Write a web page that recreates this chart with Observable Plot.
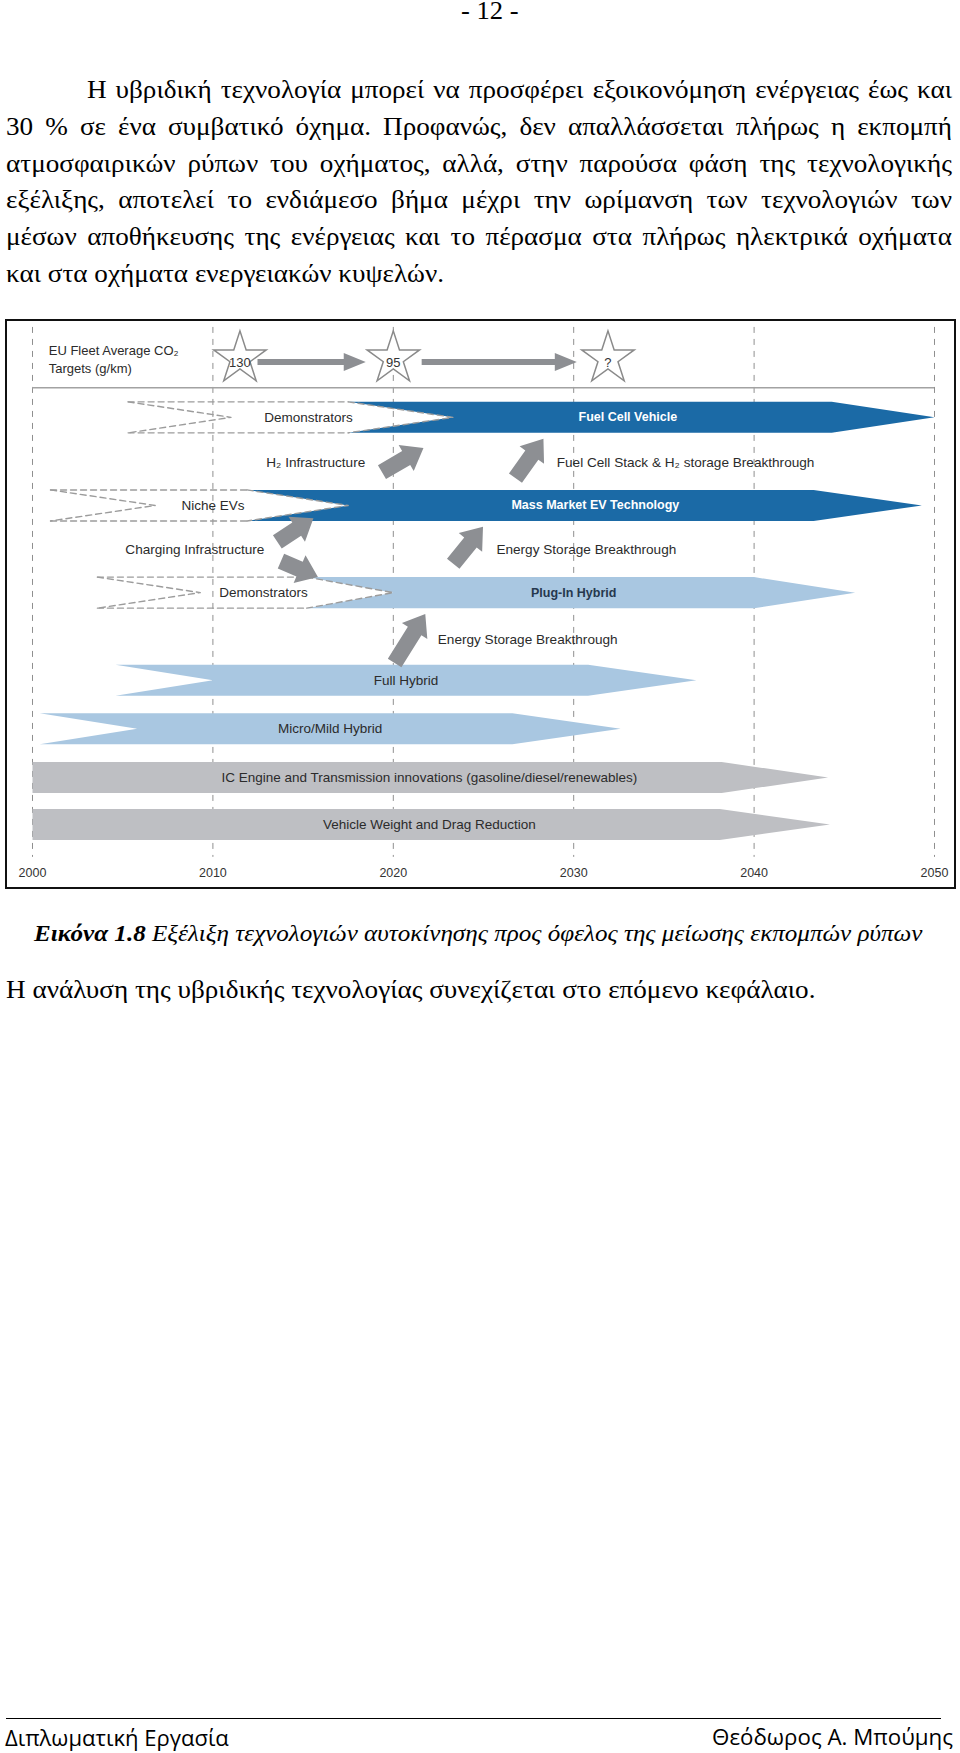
<!DOCTYPE html>
<html lang="el">
<head>
<meta charset="utf-8">
<script src="https://cdn.jsdelivr.net/npm/d3@7"></script>
<script src="https://cdn.jsdelivr.net/npm/@observablehq/plot@0.6"></script>
<style>
html,body{margin:0;padding:0;background:#fff}
body{position:relative;width:960px;height:1753px;overflow:hidden;color:#000}
.ln{position:absolute;white-space:nowrap;line-height:1;display:inline-block;transform-origin:0 0}
#chart{position:absolute;left:5px;top:319px;width:951px;height:570px;border:2px solid #111;box-sizing:border-box;background:#fff}
#chart svg{display:block}
#rule{position:absolute;left:6px;top:1718px;width:935px;height:0;border-top:1.3px solid #000}
</style>
</head>
<body>
<div id="chart"></div>
<div id="rule"></div>
<script>
// ---------------- DATA ----------------
// Timeline bands (years on x; lane = vertical row of the diagram)
const bandLabels = ["Fuel Cell Vehicle", "Mass Market EV Technology", "Plug-In Hybrid", "Full Hybrid", "Micro/Mild Hybrid", "IC Engine and Transmission innovations (gasoline/diesel/renewables)", "Vehicle Weight and Drag Reduction"];
const bandGroup = ["Electric", "Electric", "Hybrid", "Hybrid", "Hybrid", "Conventional", "Conventional"];
const bandLane = [2.10, 4.03, 5.94, 7.86, 8.92, 9.99, 11.02];
const bandStart = [2017.5, 2011.9, 2015.2, 2004.6, 2000.4, 2000.0, 2000.0];
const bandNotch = [2023.3, 2017.5, 2020.0, 2010.0, 2005.8, 2000.0, 2000.0];
const bandBodyEnd = [2044.3, 2043.3, 2040.0, 2030.8, 2026.6, 2038.2, 2038.1];
const bandTip = [2050.0, 2049.3, 2045.6, 2036.8, 2032.6, 2044.1, 2044.2];
const bandLabelYear = [2033.0, 2031.2, 2030.0, 2020.7, 2016.5, 2022.0, 2022.0];

// Early (dashed) phases preceding a band
const demoLabels = ["Demonstrators", "Niche EVs", "Demonstrators"];
const demoBand = [0, 1, 2];
const demoStart = [2005.3, 2001.0, 2003.6];
const demoNotch = [2011.0, 2006.8, 2009.3];
const demoLabelYear = [2015.3, 2010.0, 2012.8];

// Enablers (text notes) and their arrows
const noteLabels = ["H\u2082 Infrastructure", "Fuel Cell Stack & H\u2082 storage Breakthrough", "Charging Infrastructure", "Energy Storage Breakthrough", "Energy Storage Breakthrough"];
const noteYear = [2015.7, 2036.2, 2009.0, 2030.7, 2027.45];
const noteLane = [3.09, 3.09, 4.99, 4.99, 6.97];
const arrowFromYear = [2019.4, 2026.8, 2013.6, 2013.8, 2023.35, 2020.1];
const arrowFromLane = [3.31, 3.44, 4.84, 5.26, 5.32, 7.49];
const arrowToYear = [2021.7, 2028.35, 2015.6, 2015.85, 2025.0, 2021.8];
const arrowToLane = [2.78, 2.58, 4.32, 5.61, 4.51, 6.42];

// EU fleet average CO2 targets
const targetTitle = ["EU Fleet Average CO\u2082", "Targets (g/km)"];
const targetTitleLane = [0.635, 1.03];
const targetYear = [2011.5, 2020.0, 2031.9];
const targetLabel = ["130", "95", "?"];
const targetArrowFrom = [2012.5, 2021.6];
const targetArrowTo = [2018.5, 2030.2];

// Axis
const tickYears = [2000, 2010, 2020, 2030, 2040, 2050];
const tickLabels = ["2000", "2010", "2020", "2030", "2040", "2050"];

// Page text
const pageNumber = "- 12 -";
const bodyLines = [
  "Η υβριδική τεχνολογία μπορεί να προσφέρει εξοικονόμηση ενέργειας έως και",
  "30 % σε ένα συμβατικό όχημα. Προφανώς, δεν απαλλάσσεται πλήρως η εκπομπή",
  "ατμοσφαιρικών ρύπων του οχήματος, αλλά, στην παρούσα φάση της τεχνολογικής",
  "εξέλιξης, αποτελεί το ενδιάμεσο βήμα μέχρι την ωρίμανση των τεχνολογιών των",
  "μέσων αποθήκευσης της ενέργειας και το πέρασμα στα πλήρως ηλεκτρικά οχήματα",
  "και στα οχήματα ενεργειακών κυψελών."
];
const captionLead = "Εικόνα 1.8";
const captionText = "Εξέλιξη τεχνολογιών αυτοκίνησης προς όφελος της μείωσης εκπομπών ρύπων";
const afterText = "Η ανάλυση της υβριδικής τεχνολογίας συνεχίζεται στο επόμενο κεφάλαιο.";
const footerLeft = "Διπλωματική Εργασία";
const footerRight = "Θεόδωρος Α. Μπούμης";

// ---------------- PAGE TEXT LAYOUT ----------------
const SERIF = '"Liberation Serif","Times New Roman",serif';
const SANS = '"Open Sans","Noto Sans",sans-serif';
function makeSpan(html, family, size, italic) {
  const s = document.createElement("span");
  s.className = "ln";
  s.innerHTML = html;
  s.style.fontFamily = family;
  s.style.fontSize = size + "px";
  if (italic) s.style.fontStyle = "italic";
  document.body.appendChild(s);
  return s;
}
function addLine(html, o) {
  const s = makeSpan(html, o.family, o.size, o.italic);
  const sx = o.sx || 1;
  let w = s.getBoundingClientRect().width;
  let size = o.size;
  if (o.fitSize) {
    size = o.size * (o.width / sx) / w;
    s.style.fontSize = size + "px";
    w = s.getBoundingClientRect().width;
  }
  if (o.justify) {
    const n = (s.textContent.match(/ /g) || []).length;
    if (n) s.style.wordSpacing = ((o.width / sx - w) / n) + "px";
    w = o.width / sx;
  }
  if (sx !== 1) s.style.transform = `scaleX(${sx})`;
  const vis = w * sx;
  const asc = o.family === SANS ? 1.069 : 0.891, desc = o.family === SANS ? 0.293 : 0.216;
  const baseOff = (size - (asc + desc) * size) / 2 + asc * size;
  s.style.top = (o.baseline - baseOff) + "px";
  let left = o.left;
  if (o.center != null) left = o.center - vis / 2;
  if (o.right != null) left = o.right - vis;
  s.style.left = left + "px";
  return s;
}
const BODY = 25.5;
// horizontal scale calibrated on the unjustified last line of the paragraph (≈438px wide)
const probe = makeSpan(bodyLines[bodyLines.length - 1], SERIF, BODY, false);
const SX = 438 / probe.getBoundingClientRect().width;
probe.remove();

addLine(pageNumber, {family: SERIF, size: 25, sx: SX, center: 490, baseline: 19});
bodyLines.forEach((t, i) => {
  const first = i === 0, last = i === bodyLines.length - 1;
  addLine(t, {family: SERIF, size: BODY, sx: SX, left: first ? 87 : 6, width: first ? 865 : 946,
    justify: !last, baseline: 98.3 + i * 36.85});
});
addLine("<b>" + captionLead + "</b> " + captionText, {family: SERIF, size: BODY, sx: SX, italic: true, left: 34, width: 889, fitSize: true, baseline: 941.5});
addLine(afterText, {family: SERIF, size: BODY, sx: SX, left: 6, baseline: 998});
addLine(footerLeft, {family: SANS, size: 20, left: 5, width: 224, fitSize: true, baseline: 1746});
addLine(footerRight, {family: SANS, size: 20, right: 953, width: 241, fitSize: true, baseline: 1746});

// ---------------- CHART ----------------
const H = 0.34; // half thickness of a band, in lanes
const bands = bandLabels.map((label, i) => ({label, group: bandGroup[i], lane: bandLane[i], start: bandStart[i], notch: bandNotch[i], bodyEnd: bandBodyEnd[i], tip: bandTip[i], labelYear: bandLabelYear[i]}));
const bandPoly = bands.flatMap((b, i) => [
  [b.start, b.lane - H], [b.bodyEnd, b.lane - H], [b.tip, b.lane], [b.bodyEnd, b.lane + H], [b.start, b.lane + H], [b.notch, b.lane]
].map(([x, y]) => ({id: i, x, y, group: b.group})));

const demos = demoLabels.map((label, j) => ({label, band: bands[demoBand[j]], start: demoStart[j], notch: demoNotch[j], labelYear: demoLabelYear[j]}));
const demoLines = demos.flatMap((d, j) => {
  const b = d.band, top = b.lane - H, bot = b.lane + H;
  return [
    [[d.start, top], [b.start, top]],
    [[d.start, bot], [b.start, bot]],
    [[d.start, top], [d.notch, b.lane], [d.start, bot]],
    [[b.start, top], [b.notch, b.lane], [b.start, bot]]
  ].flatMap((pts, k) => pts.map(([x, y]) => ({id: j * 10 + k, x, y})));
});

const notes = noteLabels.map((label, i) => ({label, x: noteYear[i], lane: noteLane[i]}));
const arrows = arrowFromYear.map((x1, i) => ({x1, y1: arrowFromLane[i], x2: arrowToYear[i], y2: arrowToLane[i]}));
const TARGET_LANE = 0.81, TARGET_TEXT_LANE = 0.90;
const targets = targetYear.map((x, i) => ({x, label: targetLabel[i]}));
const targetArrows = targetArrowFrom.map((x1, i) => ({x1, x2: targetArrowTo[i], y: TARGET_TEXT_LANE}));

function blockArrow(shaftW, headW, headL, fill) {
  return function (index, scales, values) {
    const g = d3.create("svg:g");
    for (const i of index) {
      const x1 = values.x1[i], y1 = values.y1[i], x2 = values.x2[i], y2 = values.y2[i];
      const L = Math.hypot(x2 - x1, y2 - y1);
      const ux = (x2 - x1) / L, uy = (y2 - y1) / L, px = -uy, py = ux;
      const bx = x2 - ux * headL, by = y2 - uy * headL, s = shaftW / 2, h = headW / 2;
      const pts = [[x1 + px * s, y1 + py * s], [bx + px * s, by + py * s], [bx + px * h, by + py * h], [x2, y2],
                   [bx - px * h, by - py * h], [bx - px * s, by - py * s], [x1 - px * s, y1 - py * s]];
      g.append("path").attr("d", "M" + pts.map(p => p.join(",")).join("L") + "Z").attr("fill", fill);
    }
    return g.node();
  };
}

const ARROW = "#8d8f93", TXT = "#2b2b2b";
const chart = Plot.plot({
  width: 947, height: 566,
  marginTop: 0, marginBottom: 0, marginLeft: 25, marginRight: 20,
  x: {domain: [2000, 2050], axis: null},
  y: {domain: [0, 12.4], reverse: true, axis: null},
  color: {domain: ["Electric", "Hybrid", "Conventional"], range: ["#1b6aa6", "#a9c7e1", "#bebfc3"]},
  style: {fontFamily: '"Liberation Sans", Arial, Helvetica, sans-serif', background: "#fff", color: TXT},
  marks: [
    Plot.ruleX(tickYears, {x: d => d, y1: 0.13, y2: 11.74, stroke: "#8f8f8f", strokeWidth: 1, strokeDasharray: "6,6"}),
    Plot.ruleY([1.45], {x1: 2000, x2: 2050, stroke: "#a2a2a2", strokeWidth: 1.6}),
    Plot.line(bandPoly, {x: "x", y: "y", z: "id", fill: "group", stroke: null, curve: "linear-closed"}),
    Plot.line(demoLines, {x: "x", y: "y", z: "id", stroke: "#9c9c9c", strokeWidth: 1.4, strokeDasharray: "6,4"}),
    Plot.link(arrows, {x1: "x1", y1: "y1", x2: "x2", y2: "y2", stroke: ARROW, strokeWidth: 16, render: blockArrow(16, 30, 20, ARROW)}),
    Plot.link(targetArrows, {x1: "x1", y1: "y", x2: "x2", y2: "y", stroke: ARROW, strokeWidth: 6, render: blockArrow(6, 18, 22, ARROW)}),
    Plot.dot(targets, {x: "x", y: () => TARGET_LANE, symbol: "star", r: 16.5, fill: "#fff", stroke: "#8a8a8a", strokeWidth: 1.5}),
    Plot.text(targets, {x: "x", y: () => TARGET_TEXT_LANE, text: "label", fontSize: 13, fill: "#333"}),
    Plot.text(targetTitle, {x: () => 2000.9, y: (d, i) => targetTitleLane[i], text: d => d, textAnchor: "start", fontSize: 13, fill: TXT}),
    Plot.text(bands.filter(b => b.group === "Electric"), {x: "labelYear", y: "lane", text: "label", fill: "#fff", fontWeight: "bold", fontSize: 12.5}),
    Plot.text(bands.filter(b => b.label === "Plug-In Hybrid"), {x: "labelYear", y: "lane", text: "label", fill: "#26384e", fontWeight: "bold", fontSize: 12.5}),
    Plot.text(bands.filter(b => b.group !== "Electric" && b.label !== "Plug-In Hybrid"), {x: "labelYear", y: "lane", text: "label", fill: TXT, fontSize: 13.5}),
    Plot.text(demos, {x: "labelYear", y: d => d.band.lane, text: "label", fill: TXT, fontSize: 13.5}),
    Plot.text(notes, {x: "x", y: "lane", text: "label", fill: TXT, fontSize: 13.6}),
    Plot.text(tickYears, {x: d => d, y: () => 12.09, text: (d, i) => tickLabels[i], fill: "#333", fontSize: 12.5})
  ]
});
document.getElementById("chart").appendChild(chart);
</script>
</body>
</html>
